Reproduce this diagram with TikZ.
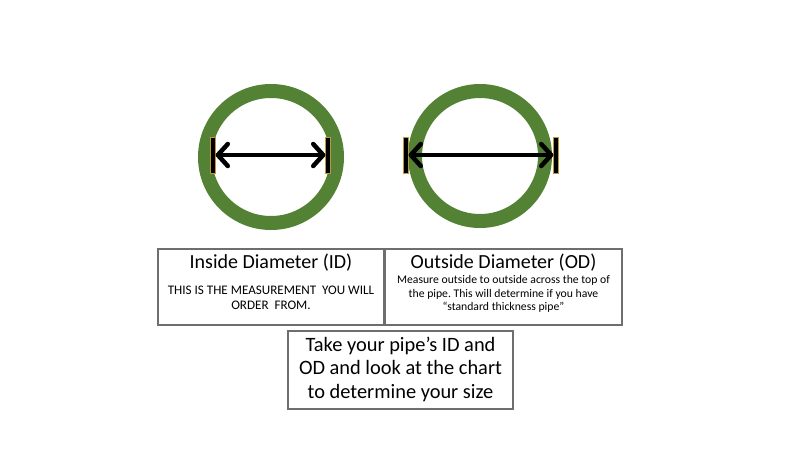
\documentclass[tikz,border=0pt]{standalone}
\usepackage{fontspec}
\setmainfont{Carlito}
\usetikzlibrary{arrows.meta}
\definecolor{ringgreen}{RGB}{84,130,53}
\definecolor{boxgray}{RGB}{110,110,110}
\definecolor{bargold}{RGB}{190,150,60}
\tikzset{
  ring/.style={draw=ringgreen, line width=14pt},
  endbar/.style={fill=black, draw=bargold, line width=0.6pt, minimum width=4.5pt, minimum height=36pt, inner sep=0pt},
  dimarrow/.style={line width=4.5pt, {Straight Barb[length=10pt,width=22pt,round]}-{Straight Barb[length=10pt,width=22pt,round]}},
  infobox/.style={draw=boxgray, line width=1.2pt, inner sep=0pt, align=center},
}
\frenchspacing
\begin{document}
\begin{tikzpicture}[x=1pt,y=-1pt]
\useasboundingbox (0,0) rectangle (800,450);
% left ring (ID)
\node[circle, minimum size=132pt, inner sep=0pt, ring] (ringL) at (271,157) {};
\node[endbar] (barLa) at (213,155) {};
\node[endbar] (barLb) at (328,155) {};
\draw[dimarrow] (barLa.east) -- (barLb.west);
% right ring (OD)
\node[circle, minimum size=130pt, inner sep=0pt, ring] (ringR) at (480,156) {};
\node[endbar] (barRa) at (406,155) {};
\node[endbar] (barRb) at (556,155) {};
\draw[dimarrow] (barRa.east) -- (barRb.west);
% boxes
\node[infobox, minimum width=226pt, minimum height=76pt] (boxID) at (271,287) {};
\node[font=\fontsize{20}{22}\selectfont] (tID) at (271,263) {Inside Diameter (ID)};
\node[font=\fontsize{13.1}{14.5}\selectfont, align=center] (sID) at (271,298) {THIS IS THE MEASUREMENT\ \ YOU WILL\\ORDER\ \ FROM.};
\node[infobox, minimum width=237pt, minimum height=76pt] (boxOD) at (503.5,287) {};
\node[font=\fontsize{20}{22}\selectfont] (tOD) at (503.5,263) {Outside Diameter (OD)};
\node[font=\fontsize{11.7}{13.2}\selectfont, align=center] (sOD) at (503.5,294) {Measure outside to outside across the top of\\the pipe. This will determine if you have\\“standard thickness pipe”};
\node[infobox, minimum width=225pt, minimum height=78pt] (boxTake) at (400.5,370) {};
\node[font=\fontsize{20.4}{23.5}\selectfont, align=center] (tTake) at (400.5,369) {Take your pipe’s ID and\\OD and look at the chart\\to determine your size};
\end{tikzpicture}
\end{document}
